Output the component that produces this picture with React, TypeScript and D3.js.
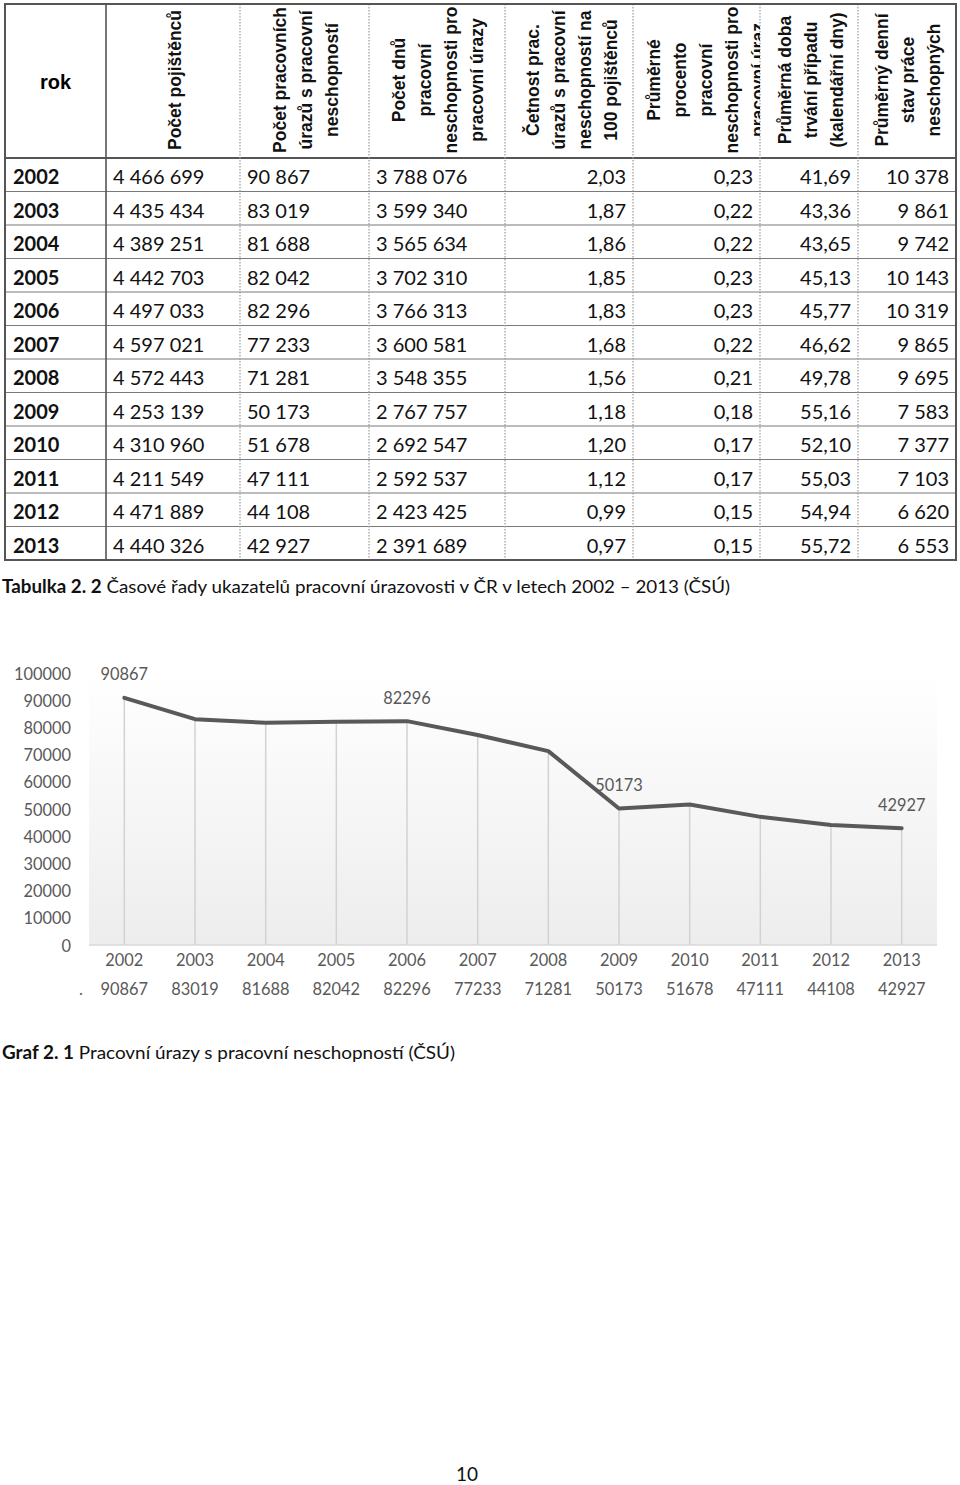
import * as d3 from 'd3'

// table data (CSU, 2002-2013)
const years = [2002, 2003, 2004, 2005, 2006, 2007, 2008, 2009, 2010, 2011, 2012, 2013]
const pojistenci = [4466699, 4435434, 4389251, 4442703, 4497033, 4597021, 4572443, 4253139, 4310960, 4211549, 4471889, 4440326]
const urazy = [90867, 83019, 81688, 82042, 82296, 77233, 71281, 50173, 51678, 47111, 44108, 42927]
const dny = [3788076, 3599340, 3565634, 3702310, 3766313, 3600581, 3548355, 2767757, 2692547, 2592537, 2423425, 2391689]
const cetnost = [2.03, 1.87, 1.86, 1.85, 1.83, 1.68, 1.56, 1.18, 1.2, 1.12, 0.99, 0.97]
const procento = [0.23, 0.22, 0.22, 0.23, 0.23, 0.22, 0.21, 0.18, 0.17, 0.17, 0.15, 0.15]
const doba = [41.69, 43.36, 43.65, 45.13, 45.77, 46.62, 49.78, 55.16, 52.1, 55.03, 54.94, 55.72]
const stav = [10378, 9861, 9742, 10143, 10319, 9865, 9695, 7583, 7377, 7103, 6620, 6553]

const headers = [
  ['Počet pojištěnců'],
  ['Počet pracovních', 'úrazů s pracovní', 'neschopností'],
  ['Počet dnů', 'pracovní', 'neschopnosti pro', 'pracovní úrazy'],
  ['Četnost prac.', 'úrazů s pracovní', 'neschopností na', '100 pojištěnců'],
  ['Průměrné', 'procento', 'pracovní', 'neschopnosti pro', 'pracovní úraz'],
  ['Průměrná doba', 'trvání případu', '(kalendářní dny)'],
  ['Průměrný denní', 'stav práce', 'neschopných'],
]

// chart labels shown on the line
const labelledYears = [2002, 2006, 2009, 2013]

const cz = d3.formatLocale({ decimal: ',', thousands: '\u00a0', grouping: [3], currency: ['', ''] })
const fInt = cz.format(',d')
const fDec = cz.format(',.2f')

const DATA_FONT = 'Lato, sans-serif'
const HEAD_FONT = '"Liberation Sans", Arial, sans-serif'
const GREY = '#595959'

function Table() {
  const colX = [5, 106, 240, 369, 505, 633, 760, 858, 956]
  const top = 4
  const headBottom = 158
  const rowH = 33.5
  const bottom = headBottom + rowH * years.length
  const lineGap = 26
  const headShift = [2, 1, 1, 3, 9, 2, 1]

  const cols = [
    { vals: pojistenci.map(fInt), align: 'left' },
    { vals: urazy.map(fInt), align: 'left' },
    { vals: dny.map(fInt), align: 'left' },
    { vals: cetnost.map(fDec), align: 'right' },
    { vals: procento.map(fDec), align: 'right' },
    { vals: doba.map(fDec), align: 'right' },
    { vals: stav.map(fInt), align: 'right' },
  ]

  return (
    <g>
      <defs>
        {headers.map((_, i) => (
          <clipPath id={`hc${i}`} key={i}>
            <rect x={colX[i + 1]} y={top} width={colX[i + 2] - colX[i + 1]} height={headBottom - top} />
          </clipPath>
        ))}
      </defs>
      {/* row lines */}
      {years.map((_, i) => (
        <line key={i} x1={colX[0]} x2={colX[8]} y1={headBottom + rowH * i} y2={headBottom + rowH * i}
          stroke={i === 0 ? '#555' : '#7a7a7a'} strokeWidth={i === 0 ? 1.8 : 1.2} />
      ))}
      {/* vertical separators */}
      {colX.slice(2, 8).map((x, i) => (
        <line key={i} x1={x} x2={x} y1={top} y2={bottom} stroke="#9a9a9a" strokeWidth={1.2} strokeDasharray="1.5 1.5" />
      ))}
      <line x1={colX[1]} x2={colX[1]} y1={top} y2={bottom} stroke="#555" strokeWidth={1.6} />
      <rect x={colX[0]} y={top} width={colX[8] - colX[0]} height={bottom - top} fill="none" stroke="#555" strokeWidth={2} />

      {/* header */}
      <text x={(colX[0] + colX[1]) / 2} y={89} textAnchor="middle" fontFamily={HEAD_FONT} fontWeight={700} fontSize={20}>rok</text>
      {headers.map((lines, i) => {
        const cx = (colX[i + 1] + colX[i + 2]) / 2 + headShift[i]
        return (
          <g key={i} clipPath={`url(#hc${i})`}>
            {lines.map((ln, j) => {
              const lx = cx + (j - (lines.length - 1) / 2) * lineGap
              return (
                <text key={j} transform={`translate(${lx},${80}) rotate(-90)`} textAnchor="middle"
                  dominantBaseline="central" fontFamily={HEAD_FONT} fontWeight={700} fontSize={17.5} fill="#111">
                  {ln}
                </text>
              )
            })}
          </g>
        )
      })}

      {/* body */}
      {years.map((yr, r) => {
        const by = headBottom + rowH * r + 26
        return (
          <g key={yr} fontFamily={DATA_FONT} fontSize={20} fill="#111">
            <text x={13} y={by} fontWeight={700}>{yr}</text>
            {cols.map((c, k) => (
              <text key={k}
                x={c.align === 'left' ? colX[k + 1] + 7 : colX[k + 2] - 7}
                y={by} textAnchor={c.align === 'left' ? 'start' : 'end'}>
                {c.vals[r]}
              </text>
            ))}
          </g>
        )
      })}

      <text x={2} y={593} fontFamily={DATA_FONT} fontSize={18} fill="#111" textLength={728} lengthAdjust="spacingAndGlyphs">
        <tspan fontWeight={700}>Tabulka 2. 2</tspan>
        <tspan> Časové řady ukazatelů pracovní úrazovosti v ČR v letech 2002 – 2013 (ČSÚ)</tspan>
      </text>
    </g>
  )
}

function LineChart() {
  const x = d3.scaleBand<number>().domain(years).range([89, 937])
  const y = d3.scaleLinear().domain([0, 100000]).range([945, 673])
  const cx = (yr: number) => (x(yr) as number) + x.bandwidth() / 2
  const pts = years.map((yr, i) => ({ yr, v: urazy[i] }))
  const line = d3.line<{ yr: number; v: number }>().x(d => cx(d.yr)).y(d => y(d.v))
  const [x0, x1] = x.range()

  return (
    <g fontFamily={DATA_FONT} fontSize={16.4} fill={GREY}>
      <defs>
        <linearGradient id="plotbg" x1="0" y1="0" x2="0" y2="1">
          <stop offset="0" stopColor="#ffffff" />
          <stop offset="1" stopColor="#ededed" />
        </linearGradient>
      </defs>
      <rect x={x0} y={y(100000)} width={x1 - x0} height={y(0) - y(100000)} fill="url(#plotbg)" />
      {y.ticks(10).map(t => (
        <text key={t} x={71} y={y(t)} textAnchor="end" dominantBaseline="central">{t}</text>
      ))}
      {pts.map(p => (
        <line key={p.yr} x1={cx(p.yr)} x2={cx(p.yr)} y1={y(p.v)} y2={y(0)} stroke="#d2d2d2" strokeWidth={1.5} />
      ))}
      <line x1={x0} x2={x1} y1={y(0)} y2={y(0)} stroke="#d9d9d9" strokeWidth={1.5} />
      <path d={line(pts) as string} fill="none" stroke={GREY} strokeWidth={4} strokeLinejoin="round" strokeLinecap="round" />
      {pts.filter(p => labelledYears.includes(p.yr)).map(p => (
        <text key={p.yr} x={cx(p.yr)} y={y(p.v) - 24} textAnchor="middle" dominantBaseline="central">{p.v}</text>
      ))}
      {pts.map(p => (
        <g key={p.yr}>
          <text x={cx(p.yr)} y={959} textAnchor="middle" dominantBaseline="central">{p.yr}</text>
          <text x={cx(p.yr)} y={988} textAnchor="middle" dominantBaseline="central">{p.v}</text>
        </g>
      ))}
      <text x={81} y={988} textAnchor="middle" dominantBaseline="central">.</text>
    </g>
  )
}

export default function App() {
  return (
    <svg width={960} height={1485} style={{ position: 'absolute', left: 0, top: 0, background: '#fff' }}>
      <Table />
      <LineChart />
      <text x={2} y={1059} fontFamily={DATA_FONT} fontSize={18} fill="#111" textLength={453} lengthAdjust="spacingAndGlyphs">
        <tspan fontWeight={700}>Graf 2. 1</tspan>
        <tspan> Pracovní úrazy s pracovní neschopností (ČSÚ)</tspan>
      </text>
      <text x={467} y={1481} textAnchor="middle" fontFamily={DATA_FONT} fontSize={19} fill="#111">10</text>
    </svg>
  )
}
